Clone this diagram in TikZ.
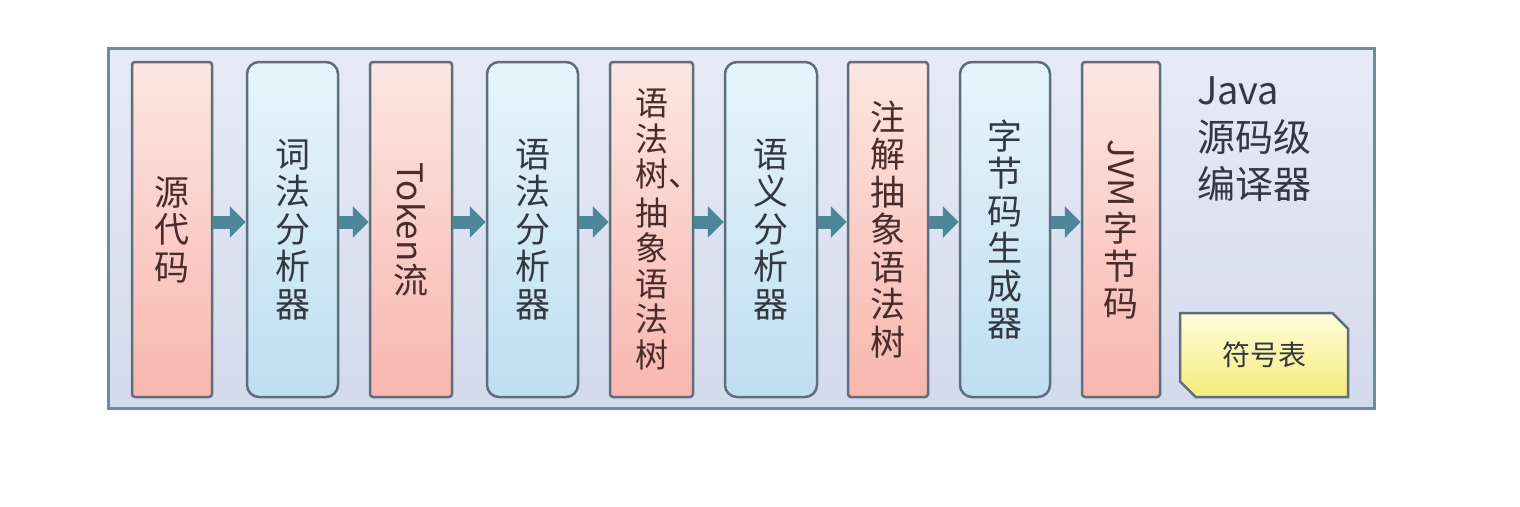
\documentclass[tikz,border=0pt]{standalone}
\usepackage{fontspec}
\setmainfont{Noto Sans CJK SC}
\usepackage{graphicx}
\usetikzlibrary{arrows.meta,shapes.misc}
\definecolor{frameline}{HTML}{6B8C98}
\definecolor{frametop}{HTML}{E6EBF6}
\definecolor{framebot}{HTML}{D3DAEC}
\definecolor{boxline}{HTML}{5D6F7C}
\definecolor{pinktop}{HTML}{FDE6E2}
\definecolor{pinkbot}{HTML}{F8B6AE}
\definecolor{bluetop}{HTML}{E8F4FB}
\definecolor{bluebot}{HTML}{BEDFF1}
\definecolor{arrcol}{HTML}{4D8699}
\definecolor{pinktext}{HTML}{4A2C2C}
\definecolor{bluetext}{HTML}{333840}
\definecolor{yeltop}{HTML}{FFFCDC}
\definecolor{yelbot}{HTML}{F3EC7A}
\tikzset{
  frame/.style={draw=frameline, line width=3pt, top color=frametop, bottom color=framebot, inner sep=0pt},
  pinkbox/.style={draw=boxline, line width=2.5pt, rounded corners=3pt, top color=pinktop, bottom color=pinkbot,
    minimum height=335pt, inner sep=0pt, align=center, text=pinktext, font=\fontsize{35}{37.5}\selectfont},
  bluebox/.style={draw=boxline, line width=2.5pt, rounded corners=12pt, top color=bluetop, bottom color=bluebot,
    minimum height=335pt, inner sep=0pt, align=center, text=bluetext, font=\fontsize{35}{37.5}\selectfont},
  arr/.style={draw=arrcol, line width=13pt, -{Triangle[width=31pt,length=16pt]}},
  symtab/.style={chamfered rectangle, chamfered rectangle corners={north east,south west}, chamfered rectangle xsep=12pt,
    draw=boxline, line width=2.5pt, top color=yeltop, bottom color=yelbot, inner sep=0pt,
    minimum width=168pt, minimum height=84pt, text=bluetext, font=\fontsize{28}{30}\selectfont},
  title/.style={align=left, anchor=north west, inner sep=0pt, text=bluetext, font=\fontsize{38}{47}\selectfont}
}
\begin{document}
\begin{tikzpicture}[x=1pt,y=-1pt]
\useasboundingbox[fill=white] (0,0) rectangle (1520,506);
\node[frame, minimum width=1266pt, minimum height=360pt] (frame) at (741,228) {};
\node[pinkbox, minimum width=80pt] (b1) at (172,229.5) {源\\代\\码};
\node[bluebox, minimum width=91pt] (b2) at (292.5,229.5) {词\\法\\分\\析\\器};
\node[pinkbox, minimum width=82pt] (b3) at (411,229.5) {\rotatebox{-90}{Token}\\[2pt]流};
\node[bluebox, minimum width=91pt] (b4) at (532.5,229.5) {语\\法\\分\\析\\器};
\node[pinkbox, minimum width=83pt, font=\fontsize{33}{35.5}\selectfont] (b5) at (651.5,229.5) {语\\法\\树\rlap{、}\\[3pt]抽\\象\\语\\法\\树};
\node[bluebox, minimum width=92pt] (b6) at (771,229.5) {语\\义\\分\\析\\器};
\node[pinkbox, minimum width=80pt] (b7) at (888,229.5) {注\\解\\抽\\象\\语\\法\\树};
\node[bluebox, minimum width=90pt] (b8) at (1005,229.5) {字\\节\\码\\生\\成\\器};
\node[pinkbox, minimum width=78pt] (b9) at (1121,229.5) {\rotatebox{-90}{JVM}\\[4pt]字\\节\\码};
\node[symtab] (sym) at (1264,355) {符号表};
\node[title] (java) at (1197,76) {Java\\源码级\\编译器};
\draw[arr] ([yshift=7.5pt]b1.east) -- ([yshift=7.5pt]b2.west);
\draw[arr] ([yshift=7.5pt]b2.east) -- ([yshift=7.5pt]b3.west);
\draw[arr] ([yshift=7.5pt]b3.east) -- ([yshift=7.5pt]b4.west);
\draw[arr] ([yshift=7.5pt]b4.east) -- ([yshift=7.5pt]b5.west);
\draw[arr] ([yshift=7.5pt]b5.east) -- ([yshift=7.5pt]b6.west);
\draw[arr] ([yshift=7.5pt]b6.east) -- ([yshift=7.5pt]b7.west);
\draw[arr] ([yshift=7.5pt]b7.east) -- ([yshift=7.5pt]b8.west);
\draw[arr] ([yshift=7.5pt]b8.east) -- ([yshift=7.5pt]b9.west);
\end{tikzpicture}
\end{document}
